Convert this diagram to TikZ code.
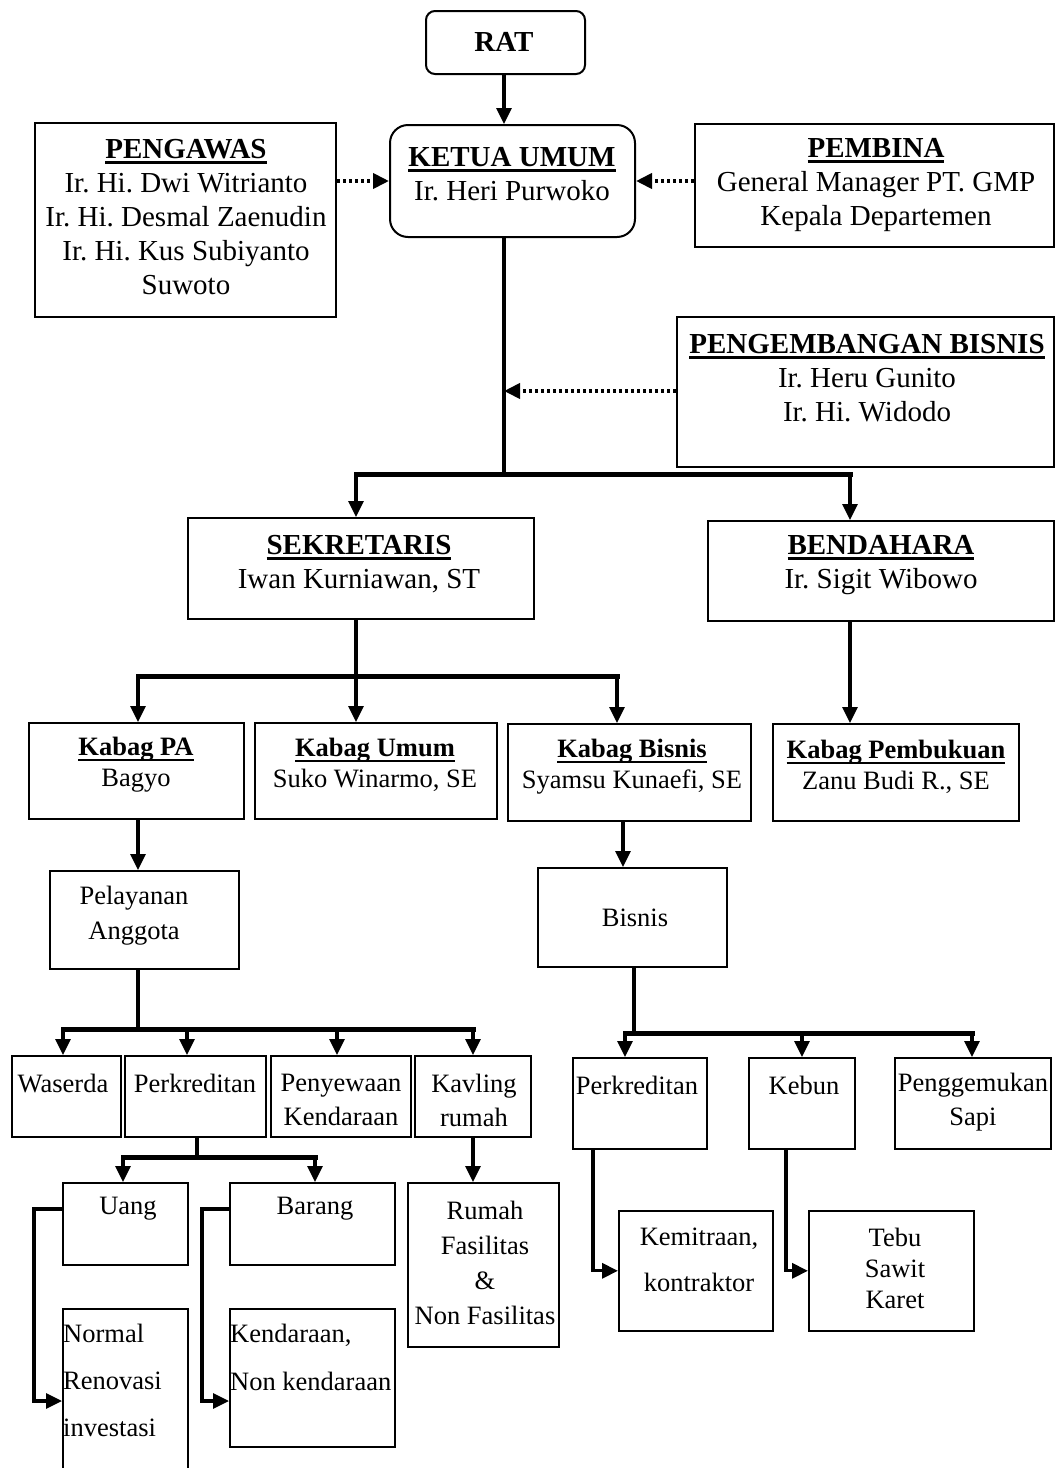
\documentclass[tikz,border=0pt]{standalone}
\usepackage{fontspec}
\setmainfont{Liberation Serif}
\usetikzlibrary{arrows.meta}
\frenchspacing

% bold heading with a thick underline
\newsavebox\hdbox
\newcommand\hd[1]{\sbox\hdbox{\bfseries #1}\rlap{\rule[-5.5pt]{\wd\hdbox}{2.5pt}}\usebox\hdbox}

\tikzset{
  box/.style={draw, line width=2pt, rectangle, inner sep=0pt, anchor=north west},
  lbox/.style={box, line width=1.6pt},
  big/.style={font=\fontsize{29}{34}\selectfont, align=center, inner sep=0pt},
  small/.style={font=\fontsize{26.5}{31}\selectfont, align=center, inner sep=0pt},
  link/.style={line width=3.2pt, -{Triangle[length=16pt,width=15pt]}},
  plain/.style={line width=3.2pt},
  bar/.style={line width=5pt, line cap=rect},
  dots/.style={line width=3.8pt, dash pattern=on 3.2pt off 2.8pt, -{Triangle[length=16pt,width=15pt]}}
}

\begin{document}
\begin{tikzpicture}[x=1pt,y=-1pt]
\useasboundingbox (0,0) rectangle (1055,1468);
\clip (0,0) rectangle (1055,1468);

% ---------- boxes ----------
\node[box, rounded corners=9pt, minimum width=159pt, minimum height=63pt] (rat) at (425,10) {};
\node[box, rounded corners=18pt, minimum width=245pt, minimum height=112pt] (ketua) at (389,124) {};
\node[box, minimum width=301pt, minimum height=194pt] (pengawas) at (34,122) {};
\node[box, minimum width=359pt, minimum height=123pt] (pembina) at (694,123) {};
\node[box, minimum width=377pt, minimum height=150pt] (pbisnis) at (676,316) {};
\node[box, minimum width=346pt, minimum height=101pt] (sekretaris) at (187,517) {};
\node[box, minimum width=346pt, minimum height=100pt] (bendahara) at (707,520) {};
\node[box, minimum width=215pt, minimum height=96pt] (kpa) at (28,722) {};
\node[box, minimum width=242pt, minimum height=96pt] (kumum) at (254,722) {};
\node[box, minimum width=243pt, minimum height=97pt] (kbisnis) at (507,723) {};
\node[box, minimum width=246pt, minimum height=97pt] (kpemb) at (772,723) {};
\node[lbox, minimum width=189pt, minimum height=98pt] (pelayanan) at (49,870) {};
\node[lbox, minimum width=189pt, minimum height=99pt] (bisnis) at (537,867) {};
\node[lbox, minimum width=109pt, minimum height=81pt] (waserda) at (11,1055) {};
\node[lbox, minimum width=141pt, minimum height=81pt] (perk1) at (124,1055) {};
\node[lbox, minimum width=140pt, minimum height=81pt] (penyewaan) at (270,1055) {};
\node[lbox, minimum width=116pt, minimum height=81pt] (kavling) at (414,1055) {};
\node[lbox, minimum width=134pt, minimum height=91pt] (perk2) at (572,1057) {};
\node[lbox, minimum width=106pt, minimum height=91pt] (kebun) at (748,1057) {};
\node[lbox, minimum width=156pt, minimum height=91pt] (pengg) at (894,1057) {};
\node[lbox, minimum width=125pt, minimum height=82pt] (uang) at (62,1182) {};
\node[lbox, minimum width=165pt, minimum height=82pt] (barang) at (229,1182) {};
\node[lbox, minimum width=151pt, minimum height=164pt] (rumah) at (407,1182) {};
\node[lbox, minimum width=125pt, minimum height=190pt] (normal) at (62,1308) {};
\node[lbox, minimum width=165pt, minimum height=138pt] (kendaraan) at (229,1308) {};
\node[lbox, minimum width=154pt, minimum height=120pt] (kemitraan) at (618,1210) {};
\node[lbox, minimum width=165pt, minimum height=120pt] (tebu) at (808,1210) {};

% ---------- texts ----------
\node[big] (rat-t) at (504,42) {\bfseries RAT};
\node[big] (ketua-t) at (512,174) {\hd{KETUA UMUM}\\Ir. Heri Purwoko};
\node[big] (pengawas-t) at (186,217) {\hd{PENGAWAS}\\Ir. Hi. Dwi Witrianto\\Ir. Hi. Desmal Zaenudin\\Ir. Hi. Kus Subiyanto\\Suwoto};
\node[big] (pembina-t) at (876,185) {\hd{PEMBINA}\\General Manager PT. GMP\\Kepala Departemen};
\node[big] (pbisnis-t) at (867,378) {\hd{PENGEMBANGAN BISNIS}\\Ir. Heru Gunito\\Ir. Hi. Widodo};
\node[big] (sekretaris-t) at (359,564) {\hd{SEKRETARIS}\\Iwan Kurniawan, ST};
\node[big] (bendahara-t) at (881,565) {\hd{BENDAHARA}\\Ir. Sigit Wibowo};
\node[small] (kpa-t) at (136,765) {\hd{Kabag PA}\\Bagyo};
\node[small] (kumum-t) at (375,765) {\hd{Kabag Umum}\\Suko Winarmo, SE};
\node[small] (kbisnis-t) at (632,767) {\hd{Kabag Bisnis}\\Syamsu Kunaefi, SE};
\node[small] (kpemb-t) at (896,767) {\hd{Kabag Pembukuan}\\Zanu Budi R., SE};
\node[small, font=\fontsize{26.5}{35}\selectfont] (pelayanan-t) at (134,916) {Pelayanan\\Anggota};
\node[small] (bisnis-t) at (635,918) {Bisnis};
\node[small] (waserda-t) at (63,1083) {Waserda};
\node[small] (perk1-t) at (195,1083) {Perkreditan};
\node[small, font=\fontsize{26.5}{34}\selectfont] (penyewaan-t) at (341,1100) {Penyewaan\\Kendaraan};
\node[small, font=\fontsize{26.5}{34}\selectfont] (kavling-t) at (474,1100) {Kavling\\rumah};
\node[small] (perk2-t) at (637,1085) {Perkreditan};
\node[small] (kebun-t) at (804,1085) {Kebun};
\node[small, font=\fontsize{26.5}{34}\selectfont] (pengg-t) at (973,1102) {Penggemukan\\Sapi};
\node[small] (uang-t) at (128,1209) {Uang};
\node[small] (barang-t) at (315,1209) {Barang};
\node[small, font=\fontsize{26.5}{35}\selectfont] (rumah-t) at (485,1263) {Rumah\\Fasilitas\\\&\\Non Fasilitas};
\node[small, align=left, anchor=west, font=\fontsize{26.5}{47}\selectfont] (normal-t) at (63,1380) {Normal\\Renovasi\\investasi};
\node[small, align=left, anchor=west, font=\fontsize{26.5}{48}\selectfont] (kendaraan-t) at (230,1357) {Kendaraan,\\Non kendaraan};
\node[small, font=\fontsize{26.5}{46}\selectfont] (kemitraan-t) at (699,1260) {Kemitraan,\\kontraktor};
\node[small, font=\fontsize{26.5}{31}\selectfont] (tebu-t) at (895,1268) {Tebu\\Sawit\\Karet};

% ---------- column and junction points ----------
\coordinate (xt) at (504,0);
\coordinate (j1) at (504,474);
\coordinate (jp) at (504,391);
\coordinate (s1) at (356,474);
\coordinate (b1) at (850,474);
\coordinate (s2) at (356,676);
\coordinate (a2) at (138,676);
\coordinate (c2) at (617,676);
\coordinate (xk) at (623,0);
\coordinate (p3) at (138,1029);
\coordinate (w3) at (63,1029);
\coordinate (r3) at (187,1029);
\coordinate (y3) at (337,1029);
\coordinate (v3) at (473,1029);
\coordinate (q4) at (634,1033);
\coordinate (l4) at (625,1033);
\coordinate (k4) at (802,1033);
\coordinate (g4) at (972,1033);
\coordinate (p5) at (197,1157);
\coordinate (u5) at (123,1157);
\coordinate (b5) at (315,1157);
\coordinate (u1) at (34,1209);
\coordinate (u2) at (34,1401);
\coordinate (g1) at (202,1209);
\coordinate (g2) at (202,1401);
\coordinate (m1) at (593,0);
\coordinate (k1) at (786,0);

% ---------- connectors ----------
\draw[link] (xt |- rat.south) -- (xt |- ketua.north);
\draw[dots] (pengawas.east |- ketua.west) -- (ketua.west);
\draw[dots] (pembina.west |- ketua.east) -- (ketua.east);
\draw[plain] (xt |- ketua.south) -- (j1);
\draw[dots] (pbisnis.west |- jp) -- (jp);

\draw[bar] (s1) -- (b1);
\draw[link] (s1) -- (s1 |- sekretaris.north);
\draw[link] (b1) -- (b1 |- bendahara.north);

\draw[plain] (s2 |- sekretaris.south) -- (s2);
\draw[bar] (a2) -- (c2);
\draw[link] (a2) -- (a2 |- kpa.north);
\draw[link] (s2) -- (s2 |- kumum.north);
\draw[link] (c2) -- (c2 |- kbisnis.north);
\draw[link] (b1 |- bendahara.south) -- (b1 |- kpemb.north);

\draw[link] (a2 |- kpa.south) -- (a2 |- pelayanan.north);
\draw[link] (xk |- kbisnis.south) -- (xk |- bisnis.north);

\draw[plain] (p3 |- pelayanan.south) -- (p3);
\draw[bar] (w3) -- (v3);
\draw[link] (w3) -- (w3 |- waserda.north);
\draw[link] (r3) -- (r3 |- perk1.north);
\draw[link] (y3) -- (y3 |- penyewaan.north);
\draw[link] (v3) -- (v3 |- kavling.north);

\draw[plain] (q4 |- bisnis.south) -- (q4);
\draw[bar] (l4) -- (g4);
\draw[link] (l4) -- (l4 |- perk2.north);
\draw[link] (k4) -- (k4 |- kebun.north);
\draw[link] (g4) -- (g4 |- pengg.north);

\draw[plain] (p5 |- perk1.south) -- (p5);
\draw[bar] (u5) -- (b5);
\draw[link] (u5) -- (u5 |- uang.north);
\draw[link] (b5) -- (b5 |- barang.north);
\draw[link] (v3 |- kavling.south) -- (v3 |- rumah.north);

\draw[link] (uang.west |- u1) -- (u1) -- (u2) -- (u2 -| normal.west);
\draw[link] (barang.west |- g1) -- (g1) -- (g2) -- (g2 -| kendaraan.west);
\draw[link] (m1 |- perk2.south) |- (kemitraan.west);
\draw[link] (k1 |- kebun.south) |- (tebu.west);
\end{tikzpicture}
\end{document}
